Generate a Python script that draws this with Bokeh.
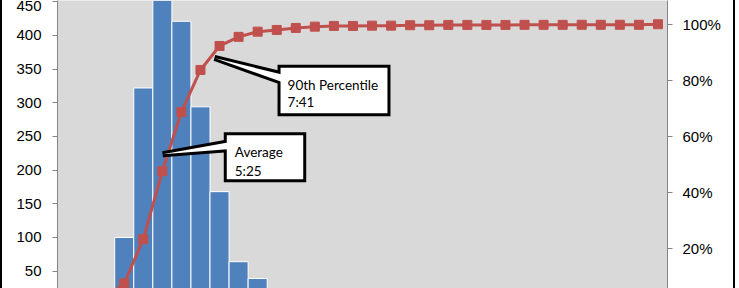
from bokeh.plotting import figure
from bokeh.models import (Range1d, LinearAxis, FixedTicker, NumeralTickFormatter,
                          FactorRange, ColumnDataSource)
from bokeh.embed import file_html
from bokeh.resources import INLINE
from bokeh.core.properties import value

# ---------------- data ----------------
categories = ["0:00", "1:00", "2:00", "3:00", "4:00", "5:00", "6:00", "7:00",
              "8:00", "9:00", "10:00", "11:00", "12:00", "13:00", "14:00", "15:00",
              "16:00", "17:00", "18:00", "19:00", "20:00", "21:00", "22:00", "23:00",
              "24:00", "25:00", "26:00", "27:00", "28:00", "29:00", "30:00", "31:00"]
counts = [6, 20, 21, 100, 322, 479, 421, 294, 168, 64, 39, 14, 14, 9, 5, 2,
          2, 1, 1, 2, 1, 1, 0, 0, 1, 0, 0, 0, 1, 0, 0, 4]
cum_pct = [0.003, 0.013, 0.024, 0.076, 0.234, 0.476, 0.687, 0.837,
           0.9225, 0.955, 0.9736, 0.9796, 0.9868, 0.9914, 0.9939, 0.9939,
           0.995, 0.995, 0.9964, 0.9964, 0.9975, 0.9975, 0.9975, 0.9975,
           0.9978, 0.9978, 0.9978, 0.998, 0.998, 0.998, 0.998, 1.0]
left_ticks = [0, 50, 100, 150, 200, 250, 300, 350, 400, 450, 500]
right_ticks = [0.0, 0.2, 0.4, 0.6, 0.8, 1.0, 1.2]
callout_texts = [["90th Percentile", "7:41"], ["Average", "5:25"]]

# ---------------- layout / style ----------------
Y_LO, Y_HI = 24.2, 451.9          # visible part of the 0..500 axis
PCT_PER_UNIT = 1.2 / 500.0        # right axis 0..120% aligned with left 0..500

src = ColumnDataSource(dict(cat=categories, count=counts, cum=cum_pct))

p = figure(width=735, height=288,
           x_range=FactorRange(*categories),
           y_range=Range1d(Y_LO, Y_HI),
           output_backend="svg", toolbar_location=None,
           x_axis_location=None,
           min_border_left=55, min_border_right=70,
           min_border_top=0, min_border_bottom=0,
           background_fill_color="#D9D9D9", border_fill_color="white",
           outline_line_color=None)
p.styles = {"border-left": "2px solid black", "border-right": "2px solid black"}
p.grid.visible = False

p.extra_y_ranges = {"pct": Range1d(Y_LO * PCT_PER_UNIT, Y_HI * PCT_PER_UNIT)}

ax_style = dict(axis_line_color="#868686", major_tick_line_color="#868686",
                major_tick_out=5, major_tick_in=0, minor_tick_line_color=None,
                major_label_text_font="Liberation Sans",
                major_label_text_font_size="15px",
                major_label_text_color="black")
yl = p.yaxis[0]
yl.ticker = FixedTicker(ticks=left_ticks)
yl.major_label_standoff = 11
for k, v in ax_style.items():
    setattr(yl, k, v)

yr = LinearAxis(y_range_name="pct", ticker=FixedTicker(ticks=right_ticks),
                formatter=NumeralTickFormatter(format="0%"),
                major_label_standoff=10, **ax_style)
p.add_layout(yr, "right")

# bars
p.vbar(x="cat", top="count", bottom=0, width=1.0, source=src,
       fill_color="#4F81BD", line_color="white", line_width=1)

# cumulative line
p.line(x="cat", y="cum", source=src, y_range_name="pct",
       line_color="#C0504D", line_width=3)
p.scatter(x="cat", y="cum", source=src, y_range_name="pct", marker="square",
          size=9, fill_color="#C0504D", line_color="#C0504D")

# callouts (synthetic x units, left-axis y units)
callouts = [
    dict(box=(11.70, 17.31, 284.5, 351.9),
         wedge=([8.24, 12.0, 12.0], [366.5, 340.5, 328.6]),
         tx=12.07, ty=[326.7, 300.9]),
    dict(box=(8.88, 12.89, 186.5, 251.9),
         wedge=([5.52, 9.08, 9.08], [223.5, 241.8, 231.4]),
         tx=9.30, ty=[226.6, 199.4]),
]
for c in callouts:
    l, r, b, t = c["box"]
    wx, wy = c["wedge"]
    # outlines (double width, inner half later covered by fill)
    p.patch(wx, wy, fill_color="white", line_color="black", line_width=6,
            line_join="bevel")
    p.quad(left=[l], right=[r], bottom=[b], top=[t], fill_color="white",
           line_color="black", line_width=6, line_join="miter")
for c in callouts:
    l, r, b, t = c["box"]
    wx, wy = c["wedge"]
    p.patch(wx, wy, fill_color="white", line_color=None)
    p.quad(left=[l], right=[r], bottom=[b], top=[t], fill_color="white",
           line_color=None)
for c, lines in zip(callouts, callout_texts):
    p.text(x=[c["tx"]] * len(lines), y=c["ty"], text=lines,
           text_font=value("Lato"), text_font_size="13.5px",
           text_color="black", text_baseline="alphabetic", text_align="left")

open("out.html", "w").write(file_html(p, INLINE))
